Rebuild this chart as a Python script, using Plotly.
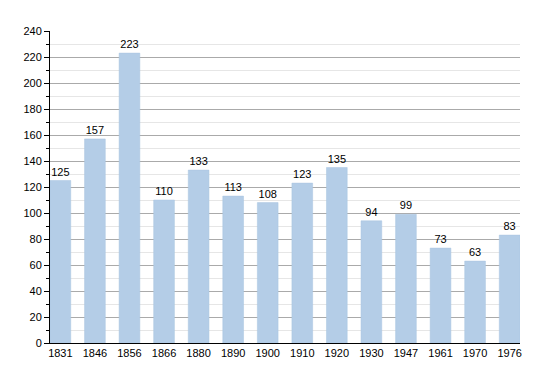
import plotly.graph_objects as go

years = ["1831", "1846", "1856", "1866", "1880", "1890", "1900", "1910", "1920", "1930", "1947", "1961", "1970", "1976"]
population = [125, 157, 223, 110, 133, 113, 108, 123, 135, 94, 99, 73, 63, 83]

fig = go.Figure(go.Bar(
    x=years, y=population,
    text=[str(v) for v in population], textposition="outside",
    textfont=dict(size=11, color="black"),
    marker=dict(color="#b4cde7", line=dict(color="#a9c4e0", width=0.5)),
    width=0.6, cliponaxis=False,
))
fig.update_layout(
    width=550, height=373,
    margin=dict(l=42, r=38, t=23, b=38),
    paper_bgcolor="white", plot_bgcolor="white",
    font=dict(family="Liberation Sans, Arial, sans-serif", size=11, color="black"),
    showlegend=False,
    xaxis=dict(type="category", range=[-0.3, 13.3], showline=True, linecolor="black", linewidth=1,
               ticks="", showgrid=False, tickfont=dict(size=11)),
    yaxis=dict(range=[0, 240], dtick=20, showline=True, linecolor="black", linewidth=1,
               ticks="outside", ticklen=5, tickcolor="black",
               gridcolor="#aaaaaa", gridwidth=1, zeroline=False,
               minor=dict(dtick=10, ticks="outside", ticklen=3, tickcolor="black",
                          showgrid=True, gridcolor="#e6e6e6", gridwidth=1),
               tickfont=dict(size=11)),
)
fig.write_html("out.html")
